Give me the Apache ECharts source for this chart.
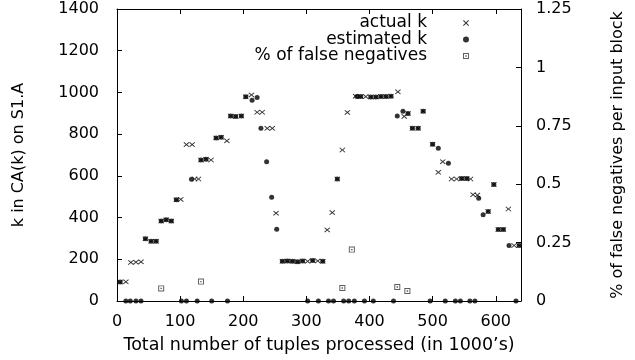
<!DOCTYPE html>
<html>
<head>
<meta charset="utf-8">
<script src="https://cdn.jsdelivr.net/npm/echarts@6/dist/echarts.min.js"></script>
<style>
  html, body { margin: 0; padding: 0; background: #fff; }
  #chart { width: 635px; height: 360px; }
</style>
</head>
<body>
<div id="chart"></div>
<script>
// ---- data ----
// x: total number of tuples processed (in 1000's); k values on left axis
const actualK = [
  [5,91],[14,92],[22,185],[30,186],[38,188],[45,298],[54,286],[62,286],
  [70,383],[78,389],[86,383],[94,485],[101,487],[110,750],[119,750],
  [123,585],[129,585],[133,676],[141,680],[149,676],[157,782],[165,785],
  [174,768],[180,887],[188,885],[197,887],[204,979],[213,988],[222,905],
  [230,905],[238,828],[246,828],[252,421],
  [262,190],[270,192],[278,190],[286,188],[294,192],[302,190],[310,194],
  [318,192],[326,190],
  [333,341],[341,424],[349,585],[357,724],[365,904],
  [378,982],[386,980],[394,980],[402,978],[410,978],[418,980],[426,980],
  [434,982],[445,1003],
  [455,885],[461,899],[468,828],[477,828],[485,910],[500,751],[509,617],
  [516,668],[530,585],[538,585],[546,587],[554,587],[560,585],[564,510],
  [571,508],[588,429],[597,558],[604,343],[612,343],[620,441],[629,266],
  [637,266]
];
const estimatedK = [
  [5,91],[45,298],[54,286],[62,286],[70,383],[78,389],[86,383],[94,485],
  [118,584],[133,676],[141,680],[157,782],[165,785],[180,887],[188,885],
  [197,887],[204,979],[214,962],[222,976],[228,828],[237,668],[245,498],
  [253,344],
  [262,190],[270,192],[278,190],[286,188],[294,192],[310,194],[326,190],
  [349,585],
  [380,980],[386,980],[402,978],[410,978],[418,980],[426,980],[434,982],
  [444,887],[453,910],[461,899],[468,828],[477,828],[485,910],[500,751],
  [509,732],[525,660],[546,587],[554,587],[573,493],[580,413],[588,429],
  [597,558],[604,343],[612,343],[621,266],[637,266],
  [14,0],[21,0],[30,0],[38,0],[102,0],[110,0],[127,0],[150,0],[175,0],
  [302,0],[319,0],[335,0],[343,0],[359,0],[367,0],[376,0],[392,0],[406,0],
  [438,0],[496,0],[520,0],[536,0],[544,0],[559,0],[567,0],[632,0]
];
// % of false negatives per input block (right axis)
const falseNeg = [
  [70,0.054],[133,0.083],[357,0.056],[372,0.22],[444,0.06],[460,0.043]
];
const seriesNames = ['actual k', 'estimated k', '% of false negatives'];

const FONT = 'DejaVu Sans';
const crossPath = 'path://M0,1.2L1.2,0L5,3.8L8.8,0L10,1.2L6.2,5L10,8.8L8.8,10L5,6.2L1.2,10L0,8.8L3.8,5Z';
const boxDotPath = 'path://M0,0H10V10H0Z M1.6,1.6V8.4H8.4V1.6Z M3.8,3.8H6.2V6.2H3.8Z';

const chart = echarts.init(document.getElementById('chart'), null, {renderer: 'canvas'});

const axisLineStyle = {show: true, onZero: false, lineStyle: {color: '#000', width: 1}};
const tickStyle = {show: true, inside: true, length: 5, lineStyle: {color: '#000'}};
function legendFor(name, top) {
  return {
    data: [name], orient: 'vertical', right: 166, top: top, align: 'right',
    itemWidth: 68, itemHeight: 6, padding: 0, selectedMode: false,
    textStyle: {fontFamily: FONT, fontSize: 17, color: '#000'}
  };
}

chart.setOption({
  animation: false,
  backgroundColor: '#fff',
  grid: {left: 117, right: 114, top: 9, bottom: 59},
  legend: [legendFor(seriesNames[0], 14.5), legendFor(seriesNames[1], 31), legendFor(seriesNames[2], 47.5)],
  xAxis: [{
    type: 'value', min: 0, max: 640, interval: 100, position: 'bottom',
    name: 'Total number of tuples processed (in 1000\u2019s)',
    nameLocation: 'middle', nameGap: 35,
    nameTextStyle: {fontFamily: FONT, fontSize: 17.5, color: '#000'},
    axisLine: axisLineStyle, axisTick: tickStyle,
    axisLabel: {fontFamily: FONT, fontSize: 16, color: '#000', margin: 13, showMaxLabel: false},
    splitLine: {show: false}
  }, {
    type: 'value', min: 0, max: 640, interval: 100, position: 'top',
    axisLine: axisLineStyle, axisTick: tickStyle,
    axisLabel: {show: false},
    splitLine: {show: false}
  }],
  yAxis: [{
    type: 'value', min: 0, max: 1400, interval: 200, position: 'left',
    name: 'k in CA(k) on S1.A', nameLocation: 'middle', nameGap: 90, nameRotate: 90,
    nameTextStyle: {fontFamily: FONT, fontSize: 16, color: '#000'},
    axisLine: axisLineStyle, axisTick: tickStyle,
    axisLabel: {fontFamily: FONT, fontSize: 16, color: '#000', margin: 18,
      formatter: function (v) { return String(v); }},
    splitLine: {show: false}
  }, {
    type: 'value', min: 0, max: 1.25, interval: 0.25, position: 'right',
    name: '% of false negatives per input block', nameLocation: 'middle', nameGap: 89, nameRotate: 90,
    nameTextStyle: {fontFamily: FONT, fontSize: 16, color: '#000'},
    axisLine: axisLineStyle, axisTick: tickStyle,
    axisLabel: {fontFamily: FONT, fontSize: 16, color: '#000', margin: 15},
    splitLine: {show: false}
  }],
  series: [{
    name: seriesNames[0], type: 'scatter', xAxisIndex: 0, yAxisIndex: 0,
    symbol: crossPath, symbolSize: [6, 5], symbolKeepAspect: false,
    itemStyle: {color: '#000'}, data: actualK, z: 2
  }, {
    name: seriesNames[1], type: 'scatter', xAxisIndex: 0, yAxisIndex: 0,
    symbol: 'circle', symbolSize: 5,
    itemStyle: {color: '#000'}, data: estimatedK, z: 3
  }, {
    name: seriesNames[2], type: 'scatter', xAxisIndex: 0, yAxisIndex: 1,
    symbol: boxDotPath, symbolSize: 6,
    itemStyle: {color: '#333'}, data: falseNeg, z: 4
  }]
});
</script>
</body>
</html>
